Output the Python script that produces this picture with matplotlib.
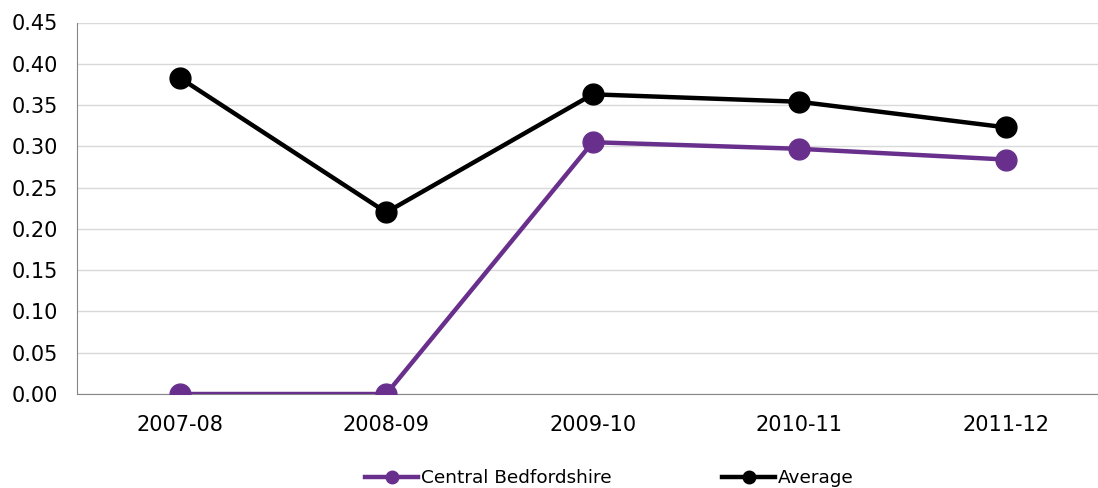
import matplotlib.pyplot as plt
import numpy as np

years = ["2007-08", "2008-09", "2009-10", "2010-11", "2011-12"]
central = [0.0, 0.0, 0.305, 0.297, 0.284]
average = [0.383, 0.220, 0.363, 0.354, 0.323]

purple = "#68308C"

fig = plt.figure(figsize=(10.98, 4.88), dpi=100)
# axes right edge runs past the figure, as in the original
ax = fig.add_axes([76.5 / 1098, 1 - 394 / 488, (1109 - 76.5) / 1098, (394 - 22.5) / 488])

x = np.arange(len(years))
ax.plot(x, central, color=purple, lw=3.2, marker="o", ms=15, label="Central Bedfordshire", zorder=3)
ax.plot(x, average, color="black", lw=3.2, marker="o", ms=15, label="Average", zorder=3)

ax.set_xlim(-0.5, 4.5)
ax.set_ylim(0, 0.45)
ax.set_yticks(np.arange(0, 0.46, 0.05))
ax.set_yticklabels(["%.2f" % v for v in np.arange(0, 0.46, 0.05)])
ax.set_xticks(x)
ax.set_xticklabels(years)
ax.tick_params(length=0, labelsize=15)
ax.tick_params(axis="y", pad=13)
ax.tick_params(axis="x", pad=15)
ax.grid(axis="y", color="#d9d9d9", lw=1)
ax.set_axisbelow(True)
for s in ["top", "right"]:
    ax.spines[s].set_visible(False)
for s in ["left", "bottom"]:
    ax.spines[s].set_color("#868686")

h, l = ax.get_legend_handles_labels()
leg = fig.legend(h, l, loc="center", bbox_to_anchor=(0.555, 0.02), ncol=2, frameon=False,
                 fontsize=13.3, handlelength=2.85, handletextpad=0.15, columnspacing=6.0,
                 markerscale=0.6)

fig.savefig("out.png", dpi=100)
